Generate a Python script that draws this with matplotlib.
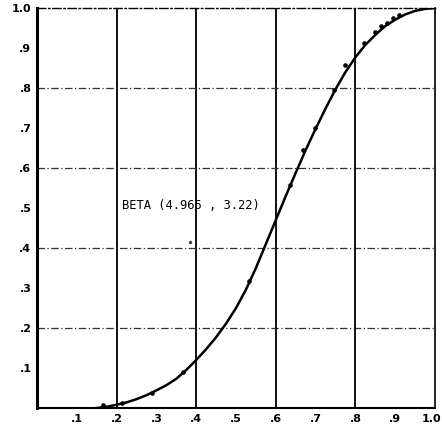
import matplotlib.pyplot as plt
from matplotlib.transforms import ScaledTranslation

# Fitted curve
curve_x = [0.15, 0.175, 0.2, 0.225, 0.25, 0.275, 0.3, 0.325, 0.35, 0.375,
           0.4, 0.425, 0.45, 0.475, 0.5, 0.525, 0.55, 0.575, 0.6, 0.625,
           0.65, 0.675, 0.7, 0.725, 0.75, 0.775, 0.8, 0.825, 0.85, 0.875,
           0.9, 0.925, 0.95, 0.975, 1.0]
curve_y = [0.0, 0.003, 0.008, 0.014, 0.022, 0.032, 0.044, 0.057, 0.073, 0.095,
           0.120, 0.147, 0.177, 0.211, 0.250, 0.296, 0.350, 0.410, 0.470, 0.530,
           0.588, 0.645, 0.698, 0.749, 0.797, 0.840, 0.877, 0.908, 0.933, 0.955,
           0.971, 0.984, 0.993, 0.998, 1.0]

# Observed points
obs_x = [0.165, 0.213, 0.288, 0.366, 0.533, 0.636, 0.669, 0.698, 0.745,
         0.774, 0.822, 0.849, 0.864, 0.879, 0.894, 0.909]
obs_y = [0.008, 0.012, 0.038, 0.089, 0.318, 0.558, 0.645, 0.700, 0.795,
         0.858, 0.913, 0.941, 0.954, 0.963, 0.974, 0.983]

ticks = [0.1, 0.2, 0.3, 0.4, 0.5, 0.6, 0.7, 0.8, 0.9, 1.0]
tick_labels = ['.1', '.2', '.3', '.4', '.5', '.6', '.7', '.8', '.9', '1.0']
odd_ticks = [0.1, 0.3, 0.5, 0.7, 0.9]
grid_vals = [0.2, 0.4, 0.6, 0.8]

fig = plt.figure(figsize=(4.42, 4.30), dpi=100)
ax = fig.add_axes([0.0837, 0.0512, 0.9005, 0.930])

# grid: solid verticals, dash-dot horizontals
for g in grid_vals:
    ax.axvline(g, color='#111111', lw=1.4, zorder=1)
    ax.axhline(g, color='#333333', lw=0.9, ls='-.', dashes=(6, 2, 1, 2), zorder=1)

ax.plot(curve_x, curve_y, color='black', lw=1.8, zorder=3)
ax.plot(obs_x, obs_y, 'o', color='black', ms=2.3, zorder=4)
ax.plot([0.384], [0.415], 'o', color='#444444', ms=1.5)

ax.text(0.214, 0.507, 'BETA (4.965 , 3.22)', family='DejaVu Sans Mono',
        fontsize=8.7, va='center', ha='left')

ax.set_xlim(0, 1.0)
ax.set_ylim(0, 1.0)
ax.set_xticks(ticks)
ax.set_xticklabels(tick_labels)
ax.set_yticks(ticks)
ax.set_yticklabels(tick_labels)
ax.set_xticks(odd_ticks, minor=True)
ax.set_yticks(odd_ticks, minor=True)
ax.tick_params(which='major', length=0, labelsize=8, pad=4)
ax.tick_params(which='minor', length=5, direction='in', width=1,
               left=True, right=True, bottom=True)
for lab in ax.get_xticklabels() + ax.get_yticklabels():
    lab.set_fontweight('bold')

# last x label sits at the right edge; nudge it in a little
last = ax.get_xticklabels()[-1]
last.set_transform(last.get_transform() + ScaledTranslation(-0.04, 0, fig.dpi_scale_trans))

ax.spines['left'].set_linewidth(2.2)
ax.spines['bottom'].set_linewidth(1.5)
ax.spines['right'].set_linewidth(1.2)
ax.spines['top'].set_linewidth(1.0)
ax.spines['top'].set_linestyle((0, (6, 2, 1, 2)))

plt.savefig('out.png', dpi=100)
